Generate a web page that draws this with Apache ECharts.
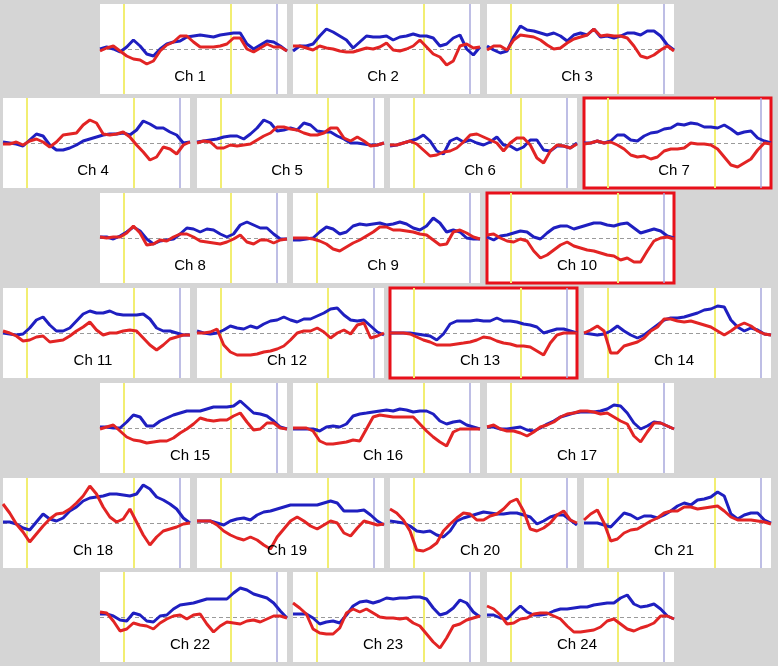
<!DOCTYPE html>
<html lang="en">
<head>
    <meta charset="UTF-8">
    <title>Ch 1 - Ch 24</title>
    <style>
        html, body { margin: 0; padding: 0; background: #d5d5d5; }
        .chart { width: 778px; height: 666px; }
    </style>
    <script src="https://cdn.jsdelivr.net/npm/echarts@6/dist/echarts.min.js"></script>
</head>
<body>
    <div class="chart"></div>
    <script>
        // time axis (s), task onset / offset / end marker
        var times = [];
        for (var t = -9; t <= 61; t += 2.5) times.push(t);
        var taskLines = [0, 40];
        var endLine = 57;

        var channels = ['Ch 1', 'Ch 2', 'Ch 3', 'Ch 4', 'Ch 5', 'Ch 6', 'Ch 7', 'Ch 8',
            'Ch 9', 'Ch 10', 'Ch 11', 'Ch 12', 'Ch 13', 'Ch 14', 'Ch 15', 'Ch 16',
            'Ch 17', 'Ch 18', 'Ch 19', 'Ch 20', 'Ch 21', 'Ch 22', 'Ch 23', 'Ch 24'];
        var highlighted = ['Ch 7', 'Ch 10', 'Ch 13'];

        // blue traces, one row per channel
        var blueData = [
            [0,2,0,-3,2,9,3,-5,-7,0,5,7,8,12,13,14,13,12,14,15,16,16,5,0,4,8,7,3,-2],
            [-2,3,3,5,13,20,17,13,9,1,7,13,12,12,13,9,12,13,15,13,13,11,3,5,11,14,0,-6,2],
            [3,-1,-4,-2,12,23,19,18,16,14,16,13,8,14,16,14,20,12,13,11,13,16,16,14,18,18,13,4,-1],
            [1,0,-1,-3,3,9,7,-2,-7,-7,-5,-2,2,4,6,8,9,9,10,8,13,22,19,15,15,11,8,0,1],
            [1,2,3,4,6,7,7,4,9,15,23,20,12,13,15,13,20,18,12,11,11,7,4,0,0,-1,-2,-2,0],
            [-3,-2,0,2,4,8,2,-8,-11,2,5,1,3,0,-2,1,6,-2,-3,-7,-4,3,3,-7,-8,-3,-3,-5,0],
            [0,0,2,0,2,8,8,3,2,7,10,11,14,15,19,18,20,19,16,16,15,18,14,9,11,12,5,2,0],
            [1,1,-1,2,6,11,7,-1,-6,-3,-2,-1,4,10,9,6,9,8,4,1,4,13,16,13,10,10,4,-1,-1],
            [-2,-2,-1,0,6,11,9,4,6,12,14,13,14,15,13,14,16,14,10,8,12,20,15,6,8,6,0,-1,-1],
            [1,-2,2,3,5,7,6,1,-1,5,10,12,12,9,11,13,15,15,13,12,14,15,10,5,7,9,7,2,0],
            [0,-1,-2,-1,5,13,16,8,2,2,5,12,19,22,20,20,22,19,18,18,18,19,14,5,2,2,0,-2,-2],
            [2,0,-1,0,3,7,5,4,7,5,9,12,13,16,13,11,14,14,17,20,24,25,18,13,12,13,7,1,-2],
            [0,0,0,0,-1,-2,-3,-7,-1,9,12,12,12,13,12,12,15,12,12,11,9,8,6,0,2,4,4,2,0],
            [0,-1,-2,-1,2,7,2,-2,-5,-2,3,8,13,15,15,16,18,20,23,24,27,26,13,6,2,5,3,-1,-2],
            [1,1,0,0,6,13,11,2,2,7,10,13,15,17,17,17,19,21,21,21,22,27,21,15,14,12,7,1,-1],
            [-1,-1,-1,-1,-3,1,2,1,4,12,14,15,16,17,18,17,19,18,16,17,17,14,7,4,6,7,3,1,-1],
            [1,1,-1,-1,0,1,-2,-3,0,4,7,11,13,15,16,16,16,17,19,23,22,15,5,-1,2,6,5,2,-1],
            [1,1,-1,-5,-7,1,9,4,2,5,12,16,22,25,26,27,29,29,28,27,29,38,34,26,23,19,14,5,0],
            [2,2,2,0,-2,2,4,5,3,8,11,12,14,16,18,18,18,18,18,20,22,20,12,12,12,13,8,2,-2],
            [2,1,0,-3,-8,-9,-8,-12,-14,-8,2,5,7,9,11,10,9,9,10,10,8,6,-1,2,6,8,8,3,-2],
            [0,0,0,-2,-4,3,10,8,4,7,7,5,8,12,17,20,18,23,24,26,31,27,9,4,8,10,10,3,0],
            [3,3,1,-3,-4,4,2,-4,-5,1,2,8,12,13,14,16,18,18,18,18,24,29,27,23,21,19,14,6,-1],
            [3,3,3,-1,-7,-5,-4,-6,2,11,15,16,14,16,19,18,19,19,20,20,18,9,2,4,9,17,14,5,0],
            [2,2,-1,-2,5,11,5,2,2,3,6,8,8,9,10,10,12,13,14,14,19,22,13,10,11,13,8,1,-2]
        ];

        // red traces, one row per channel
        var redData = [
            [-2,1,3,-2,-7,-10,-11,-15,-12,-2,4,7,13,13,7,2,2,2,3,5,11,11,0,-3,1,5,2,2,-2],
            [3,3,1,-1,3,1,0,-2,-3,-3,-1,1,0,2,6,-1,-2,0,3,9,2,-5,-8,-16,-12,3,5,1,2],
            [-1,3,3,-1,9,14,13,12,9,4,0,1,6,10,12,14,20,13,14,13,13,11,3,-7,-9,-6,-1,3,-2],
            [-1,-1,1,-2,2,4,1,-4,1,8,9,10,18,23,20,9,8,9,11,6,-2,-9,-17,-14,-4,-6,-11,-2,1],
            [0,2,1,-5,-5,-2,-3,-2,-1,3,7,10,16,16,14,13,10,8,8,10,15,15,5,2,6,2,-3,-2,0],
            [-2,-2,0,2,-1,-7,-13,-12,-9,-8,-5,1,8,9,6,3,0,-8,0,5,5,-2,-15,-20,-8,-2,-3,-5,-1],
            [-1,0,2,0,1,-2,-6,-12,-14,-13,-16,-14,-8,-6,-6,-5,0,-1,-1,-2,-6,-14,-22,-24,-20,-16,-7,0,-1],
            [1,0,1,1,5,12,5,-7,-6,-2,-3,1,4,4,1,-3,-4,-5,-6,-4,-1,3,-4,-6,-2,-2,-5,-2,-1],
            [0,0,0,-1,-3,-6,-11,-13,-9,-5,-2,2,6,11,11,8,8,7,6,4,3,-2,-7,-6,6,8,5,1,-1],
            [3,4,0,-3,-4,-1,-3,-13,-20,-17,-12,-7,-4,-8,-10,-12,-13,-15,-17,-18,-22,-20,-24,-24,-13,-3,0,1,-1],
            [2,0,-3,-8,-7,-4,-3,-9,-8,-7,-3,2,6,11,3,-2,0,0,2,3,2,-5,-12,-17,-12,-6,-4,-2,-2],
            [0,0,1,4,-12,-19,-22,-22,-22,-21,-19,-18,-16,-13,-7,0,2,2,5,1,-5,0,3,-1,8,10,-5,-3,0],
            [0,0,0,-1,-4,-7,-9,-12,-12,-12,-11,-10,-9,-7,-4,-5,-8,-10,-11,-13,-13,-14,-18,-22,-10,-2,0,0,0],
            [0,3,7,2,-20,-20,-13,-11,-9,-5,2,6,14,14,12,11,12,10,8,6,2,-2,2,7,10,7,2,-1,-2],
            [-1,1,3,-3,-9,-12,-13,-15,-14,-13,-13,-10,-5,-1,4,10,8,7,8,8,12,15,6,-2,-1,5,5,0,-1],
            [0,0,0,-3,-13,-16,-16,-15,-14,-12,-13,-1,11,13,12,11,11,11,11,4,-3,-9,-14,-18,-4,-1,-1,-1,-1],
            [1,3,-1,-3,-3,-5,-8,-4,1,3,6,11,14,15,17,17,16,14,15,11,7,4,-8,-14,-4,5,5,2,-1],
            [19,10,-1,-9,-19,-11,-3,4,9,10,14,20,27,37,29,16,6,1,4,14,1,-12,-22,-14,-8,-6,-4,-1,0],
            [2,2,2,-2,-8,-12,-15,-17,-14,-17,-22,-26,-14,-6,2,6,2,-3,-6,-2,2,0,-10,-13,-5,2,0,-2,-1],
            [14,10,3,-8,-27,-28,-25,-20,-8,-1,5,10,9,3,3,7,9,14,21,24,12,-6,-8,-5,0,8,12,3,0],
            [3,9,13,0,-18,-16,-10,-7,-6,-2,2,5,10,12,12,16,16,14,15,16,17,12,6,3,3,3,2,1,-1],
            [5,4,-4,-14,-12,-6,-8,-9,-12,-6,-2,1,2,-2,2,3,-7,-15,-9,-5,-6,-7,-4,-3,-5,-2,1,1,-1],
            [14,9,3,-12,-16,-17,-17,-11,4,8,5,8,4,0,-1,-1,-2,-1,-6,-9,-17,-25,-31,-21,-9,-7,-3,-1,1],
            [11,8,2,-7,-6,-2,-1,3,4,4,1,-2,-9,-15,-15,-14,-13,-10,-4,-2,-7,-12,-14,-11,-9,-6,1,1,-2]
        ];

        // panel layout: rows alternate 3 and 4 panels
        var rowTops = [4, 98, 193, 288, 383, 478, 572];
        var colsShort = [100, 293, 487];
        var colsLong = [3, 197, 390, 584];
        var panelW = 187, panelH = 90;

        function pairs(vals) {
            return vals.map(function (v, i) { return [times[i], v]; });
        }

        var grids = [], xAxes = [], yAxes = [], series = [], graphics = [];
        var k = 0;
        rowTops.forEach(function (top, r) {
            var cols = (r % 2 === 0) ? colsShort : colsLong;
            cols.forEach(function (left) {
                var name = channels[k];
                var hl = highlighted.indexOf(name) >= 0;
                grids.push({
                    left: left, top: top, width: panelW, height: panelH,
                    show: true, backgroundColor: '#ffffff',
                    borderWidth: hl ? 3 : 0, borderColor: '#e8101a'
                });
                xAxes.push({gridIndex: k, type: 'value', min: -9, max: 61, show: false});
                yAxes.push({gridIndex: k, type: 'value', min: -45, max: 45, show: false});

                //辅助线: 任务开始/结束(黄色)、结束标记(紫色)、基线(虚线)
                var marks = taskLines.map(function (x) {
                    return {xAxis: x, lineStyle: {color: '#f2ee72', width: 2, type: 'solid'}};
                });
                marks.push({xAxis: endLine, lineStyle: {color: '#a9a9dd', width: 1.5, type: 'solid'}});
                marks.push({yAxis: 0, lineStyle: {color: '#9a9a9a', width: 1, type: [4, 3]}});
                series.push({
                    type: 'line', xAxisIndex: k, yAxisIndex: k, z: 1,
                    data: pairs(blueData[k]), showSymbol: false, silent: true,
                    lineStyle: {opacity: 0},
                    markLine: {silent: true, z: 1, symbol: ['none', 'none'], label: {show: false}, data: marks}
                });
                series.push({
                    type: 'line', xAxisIndex: k, yAxisIndex: k, z: 2,
                    data: pairs(blueData[k]), showSymbol: false,
                    lineStyle: {color: '#1f1fc0', width: 3}
                });
                series.push({
                    type: 'line', xAxisIndex: k, yAxisIndex: k, z: 3,
                    data: pairs(redData[k]), showSymbol: false,
                    lineStyle: {color: '#e22424', width: 3}
                });
                graphics.push({
                    type: 'text', x: left + 90, y: top + 73, z: 10,
                    style: {
                        text: name, textAlign: 'center', textVerticalAlign: 'middle',
                        font: '15px "Liberation Sans", Arial, sans-serif', fill: '#000'
                    }
                });
                k++;
            });
        });

        var chart = echarts.init(document.querySelector('.chart'));
        chart.setOption({
            backgroundColor: '#d5d5d5',
            animation: false,
            grid: grids,
            xAxis: xAxes,
            yAxis: yAxes,
            series: series,
            graphic: graphics
        });
    </script>
</body>
</html>
